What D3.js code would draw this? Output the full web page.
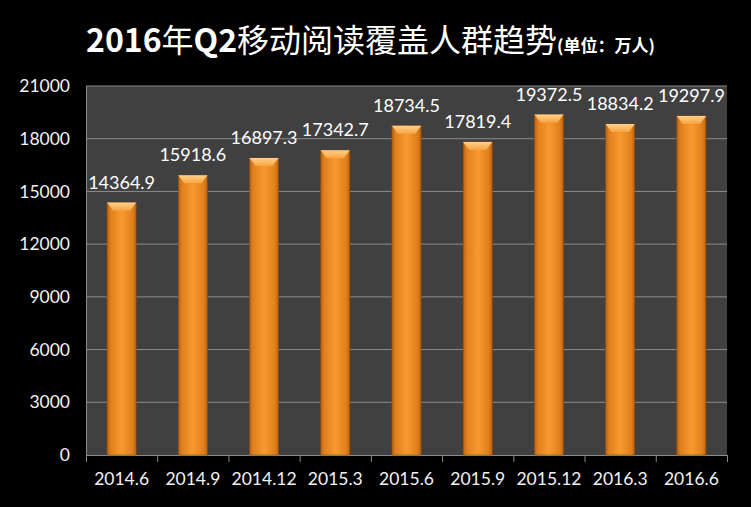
<!DOCTYPE html>
<html><head><meta charset="utf-8">
<script src="https://cdn.jsdelivr.net/npm/d3@7"></script>
<style>body{margin:0;background:#000;}svg{display:block;}</style>
</head><body>
<svg id="c" width="751" height="507"></svg>
<script>
const categories = ["2014.6","2014.9","2014.12","2015.3","2015.6","2015.9","2015.12","2016.3","2016.6"];
const values = [14364.9,15918.6,16897.3,17342.7,18734.5,17819.4,19372.5,18834.2,19297.9];
const yTicks = [0,3000,6000,9000,12000,15000,18000,21000];
const titleParts = [["2016",true],["年",false],["Q2",true],["移动阅读覆盖人群趋势",false]];
const titleUnit = "(单位：万人)";

const svg = d3.select("#c");
const W = 751, H = 507;
const m = {left:86, right:24, top:86, bottom:52};
const x = d3.scaleBand().domain(categories).range([m.left, W-m.right]).paddingInner(0.59).paddingOuter(0.295);
const y = d3.scaleLinear().domain([0,21000]).range([H-m.bottom, m.top]);

svg.append("rect").attr("width",W).attr("height",H).attr("fill","#000");
svg.append("rect").attr("x",m.left).attr("y",m.top).attr("width",W-m.right-m.left).attr("height",H-m.bottom-m.top).attr("fill","#404040");

const defs = svg.append("defs");
const g1 = defs.append("linearGradient").attr("id","bg").attr("x1","0").attr("x2","1").attr("y1","0").attr("y2","0");
[[0,"#b8600f"],[0.12,"#e07f1d"],[0.5,"#f79a2e"],[0.88,"#e07f1d"],[1,"#b8600f"]].forEach(s=>g1.append("stop").attr("offset",s[0]).attr("stop-color",s[1]));
const g2 = defs.append("linearGradient").attr("id","bv").attr("x1","0").attr("x2","0").attr("y1","0").attr("y2","1");
[[0,"#ffd08a"],[1,"#f7a440"]].forEach(s=>g2.append("stop").attr("offset",s[0]).attr("stop-color",s[1]));

// gridlines
svg.append("g").selectAll("line").data(yTicks.filter(t=>t>0)).join("line")
  .attr("x1",m.left).attr("x2",W-m.right).attr("y1",d=>y(d)).attr("y2",d=>y(d))
  .attr("stroke","#8c8c8c").attr("stroke-width",1);

// y axis
const ya = svg.append("g").attr("transform",`translate(${m.left},0)`)
  .call(d3.axisLeft(y).tickValues(yTicks).tickSize(0).tickPadding(16).tickFormat(d3.format("d")));
ya.select(".domain").attr("stroke","#8c8c8c");
ya.selectAll("text").attr("fill","#f2f2f2").attr("font-family","Lato, 'Open Sans', sans-serif").attr("font-size",17.5);

// x axis
const step = x.step();
const xa = svg.append("g").attr("transform",`translate(0,${H-m.bottom})`)
  .call(d3.axisBottom(x).tickSize(0).tickPadding(18));
xa.select(".domain").attr("stroke","#8c8c8c");
xa.selectAll("text").attr("fill","#f2f2f2").attr("font-family","Lato, 'Open Sans', sans-serif").attr("font-size",17.5);
// boundary tick marks
svg.append("g").selectAll("line").data(d3.range(categories.length+1)).join("line")
  .attr("x1",i=>m.left+i*step+0.5).attr("x2",i=>m.left+i*step+0.5)
  .attr("y1",H-m.bottom).attr("y2",H-m.bottom+7).attr("stroke","#8c8c8c");

// bars
const bars = svg.append("g").selectAll("g").data(categories).join("g");
bars.append("rect").attr("x",d=>x(d)).attr("y",(d,i)=>y(values[i])).attr("width",x.bandwidth())
  .attr("height",(d,i)=>y(0)-y(values[i])).attr("fill","url(#bg)").attr("stroke","#8a4a10").attr("stroke-width",0.6);
const bw = x.bandwidth();
bars.append("path").attr("d",(d,i)=>{
  const x0=x(d), y0=y(values[i]);
  return `M${x0},${y0}L${x0+bw},${y0}L${x0+bw-6},${y0+8}L${x0+6},${y0+8}Z`;
}).attr("fill","url(#bv)");

// value labels
svg.append("g").selectAll("text").data(categories).join("text")
  .attr("x",d=>x(d)+bw/2).attr("y",(d,i)=>y(values[i])-14)
  .attr("text-anchor","middle").attr("fill","#ffffff")
  .attr("font-family","Lato, 'Open Sans', sans-serif").attr("font-size",18)
  .text((d,i)=>values[i].toFixed(1));

// title
const t = svg.append("text").attr("x",86).attr("y",52).attr("text-anchor","start").attr("fill","#fff")
  .attr("font-family","'Noto Sans CJK SC', sans-serif");
titleParts.forEach(p=>t.append("tspan").attr("font-size",32).attr("font-weight",p[1]?"bold":"normal").text(p[0]));
t.append("tspan").attr("font-size",17).attr("font-weight","bold").text(titleUnit);
</script>
</body></html>
